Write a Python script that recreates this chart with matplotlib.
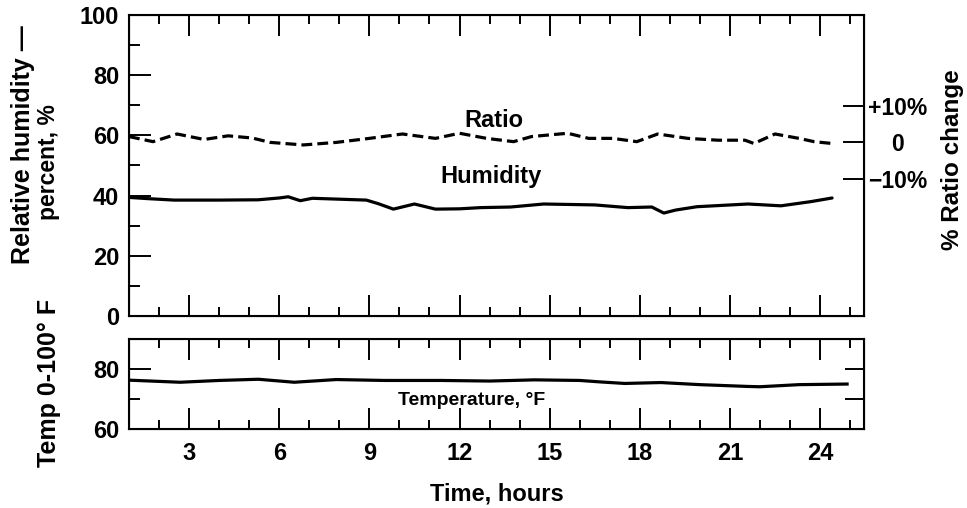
import matplotlib
matplotlib.use("Agg")
import matplotlib.pyplot as plt
from matplotlib import font_manager
from matplotlib.ticker import MultipleLocator

plt.rcParams['font.family'] = ['Liberation Sans', 'DejaVu Sans']
plt.rcParams['font.weight'] = 'bold'

# condensed face for the temperature caption, if there is one
try:
    font_manager.findfont('Liberation Sans Narrow', fallback_to_default=False)
    narrow = ['Liberation Sans Narrow', 'DejaVu Sans']
    narrow_size = 15.5
except ValueError:
    narrow = ['Liberation Sans', 'DejaVu Sans']
    narrow_size = 14

# humidity, % (left axis of top panel)
hum_hours = [1.0, 1.6, 2.5, 4.0, 5.3, 6.0, 6.3, 6.7, 7.1, 8.0, 8.9, 9.3, 9.8, 10.5, 11.2,
             12.0, 12.7, 13.7, 14.8, 16.5, 17.6, 18.4, 18.8, 19.2, 19.9, 21.6, 22.7, 23.7, 24.4]
humidity = [39.4, 39.0, 38.5, 38.5, 38.6, 39.2, 39.6, 38.3, 39.1, 38.8, 38.5, 37.3, 35.5, 37.2, 35.5,
            35.6, 36.0, 36.2, 37.2, 36.9, 36.0, 36.2, 34.2, 35.2, 36.3, 37.2, 36.6, 38.0, 39.2]

# ratio change, % (right axis of top panel)
ratio_hours = [1.0, 1.8, 2.6, 3.5, 4.3, 5.1, 5.7, 6.8, 7.9, 9.0, 10.1, 11.2, 12.0, 12.9, 13.8,
               14.4, 15.6, 16.3, 17.1, 17.9, 18.6, 19.6, 20.6, 21.5, 21.8, 22.5, 23.3, 23.8, 24.4]
ratio = [1.5, 0.1, 2.2, 0.7, 1.7, 1.1, -0.1, -0.8, -0.1, 1.0, 2.2, 1.0, 2.4, 1.0, 0.1,
         1.5, 2.4, 1.0, 1.0, 0.1, 2.2, 1.0, 0.5, 0.5, -0.4, 2.2, 1.0, 0.1, -0.4]

# temperature, F (bottom panel)
temp_hours = [1.0, 2.7, 4.0, 5.3, 6.5, 7.9, 9.5, 11.4, 13.0, 14.5, 16.0, 16.7, 17.5, 18.7,
              20.0, 21.6, 22.0, 23.3, 24.9]
temperature = [76.3, 75.6, 76.2, 76.6, 75.6, 76.5, 76.2, 76.2, 76.0, 76.4, 76.2, 75.7, 75.2, 75.5,
               74.8, 74.2, 74.1, 74.8, 75.0]

ratio_ticks = [10, 0, -10]
ratio_labels = ['+10%', '0', '\u221210%']

fig = plt.figure(figsize=(9.67, 5.08), dpi=100)
ax = fig.add_axes([0.1334, 0.378, 0.760, 0.5925])
axt = fig.add_axes([0.1334, 0.1555, 0.760, 0.177])

lw = 2.3
for a in (ax, axt):
    a.set_xlim(1, 25.46)
    a.xaxis.set_major_locator(MultipleLocator(3))
    a.xaxis.set_minor_locator(MultipleLocator(1))
    a.tick_params(axis='x', which='both', direction='in', top=True, bottom=True, width=1.4)
    a.tick_params(axis='x', which='major', length=15)
    a.tick_params(axis='x', which='minor', length=6.5)
    a.tick_params(axis='y', which='both', direction='in', left=True, right=False, width=1.4)
    a.tick_params(axis='y', which='major', length=16, pad=7, labelsize=17)
    a.tick_params(axis='y', which='minor', length=8)
    for s in a.spines.values():
        s.set_linewidth(1.5)

# top panel
ax.set_ylim(0, 100)
ax.yaxis.set_major_locator(MultipleLocator(20))
ax.yaxis.set_minor_locator(MultipleLocator(10))
ax.tick_params(axis='x', labelbottom=False)
ax.plot(hum_hours, humidity, color='black', lw=lw, solid_capstyle='round')

axr = ax.twinx()
axr.set_ylim(-47.65, 34.8)
axr.set_yticks(ratio_ticks)
axr.set_yticklabels(ratio_labels)
axr.tick_params(axis='y', direction='in', length=15, width=1.4, pad=24, labelsize=16.5)
for lab in axr.get_yticklabels():
    lab.set_horizontalalignment('center')
axr.plot(ratio_hours, ratio, color='black', lw=lw, dashes=(3.4, 1.6))

ax.text(13.15, 65.1, 'Ratio', ha='center', va='center', fontsize=17)
ax.text(13.05, 46.5, 'Humidity', ha='center', va='center', fontsize=17)

# temperature panel
axt.set_ylim(60, 90)
axt.set_yticks([60, 80])
axt.yaxis.set_minor_locator(MultipleLocator(10))
axt.tick_params(axis='x', labelsize=17, pad=9)
axt.plot(temp_hours, temperature, color='black', lw=lw)
axt.text(12.4, 69.5, 'Temperature, \u00b0F', ha='center', va='center',
         fontsize=narrow_size, family=narrow)

axtr = axt.twinx()
axtr.set_ylim(60, 90)
axtr.set_yticks([70, 80])
axtr.tick_params(axis='y', direction='in', length=14, width=1.4, labelright=False)

axt.set_xlabel('Time, hours', fontsize=17, fontweight='bold', labelpad=13)

# axis titles
fig.text(23 / 967, 1 - 145 / 508, 'Relative humidity \u2014', rotation=90,
         ha='center', va='center', fontsize=18)
fig.text(49 / 967, 1 - 162 / 508, 'percent, %', rotation=90,
         ha='center', va='center', fontsize=16.5)
fig.text(49 / 967, 1 - 383 / 508, 'Temp 0-100\u00b0 F', rotation=90,
         ha='center', va='center', fontsize=18)
fig.text(952 / 967, 1 - 160 / 508, '% Ratio change', rotation=90,
         ha='center', va='center', fontsize=17.5)

fig.savefig('out.png', dpi=100)
plt.close(fig)
